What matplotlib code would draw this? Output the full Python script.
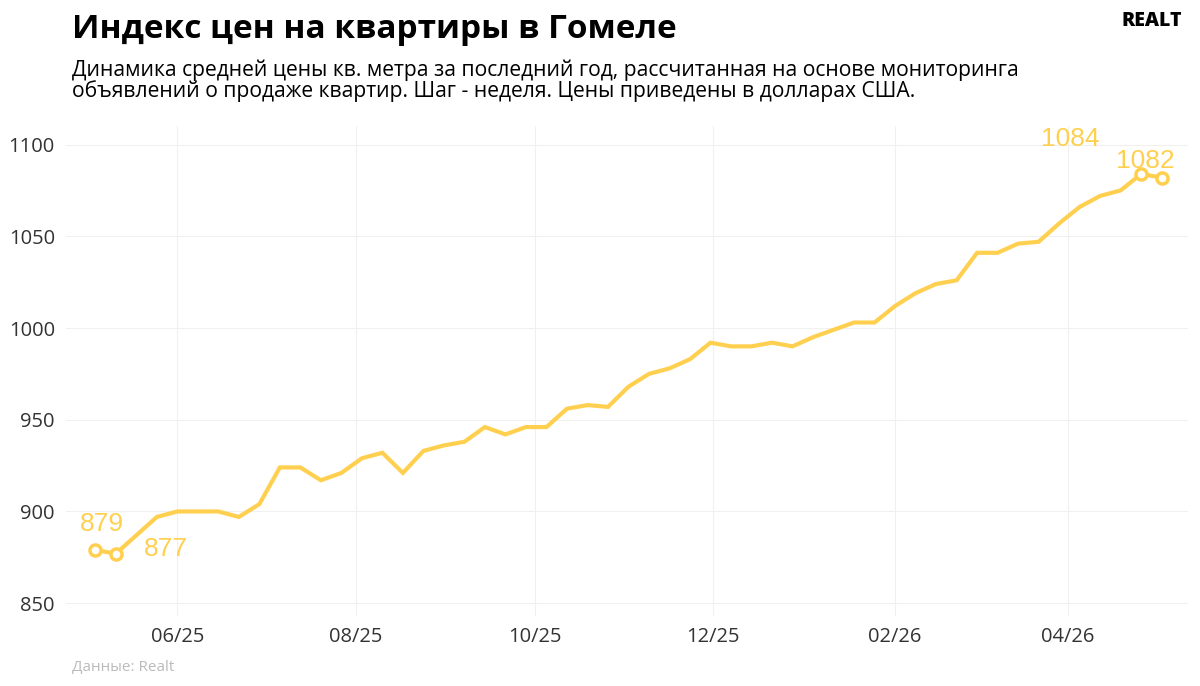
import matplotlib.pyplot as plt
import matplotlib.dates as mdates
import pandas as pd

plt.rcParams["font.family"] = ["Open Sans", "DejaVu Sans"]

start = "2025-05-04"
prices = [879, 877, 887, 897, 900, 900, 900, 897, 904, 924, 924, 917, 921, 929,
          932, 921, 933, 936, 938, 946, 942, 946, 946, 956, 958, 957, 968, 975,
          978, 983, 992, 990, 990, 992, 990, 995, 999, 1003, 1003, 1012, 1019,
          1024, 1026, 1041, 1041, 1046, 1047, 1057, 1066, 1072, 1075, 1084, 1082]
dates = pd.date_range(start, periods=len(prices), freq="7D")
yellow = "#ffd04f"

fig = plt.figure(figsize=(12, 6.86), dpi=100)
ax = fig.add_axes([0.055, 0.102, 0.935, 0.714])
ax.plot(dates, prices, color=yellow, lw=3, solid_joinstyle="miter")
for i in (0, 1, -2, -1):
    ax.plot(dates[i], prices[i], "o", ms=8, mfc="white", mec=yellow, mew=2.5)

lab = dict(color=yellow, fontsize=19, family=["Liberation Sans"])
ax.annotate(str(prices[0]), (dates[0], prices[0]), xytext=(-11, 14), textcoords="offset points", **lab)
ax.annotate(str(prices[1]), (dates[1], prices[1]), xytext=(20, -2), textcoords="offset points", **lab)
ax.annotate(str(prices[-2]), (dates[-2], prices[-2]), xytext=(-72, 20), textcoords="offset points", **lab)
ax.annotate(str(prices[-1]), (dates[-1], prices[-1]), xytext=(-33, 7), textcoords="offset points", **lab)

ax.set_ylim(843, 1110)
ax.set_yticks([850, 900, 950, 1000, 1050, 1100])
ax.set_xlim(pd.Timestamp("2025-04-24"), pd.Timestamp("2026-05-12"))
ax.xaxis.set_major_locator(mdates.MonthLocator(bymonth=[2, 4, 6, 8, 10, 12]))
ax.xaxis.set_major_formatter(mdates.DateFormatter("%m/%y"))
ax.grid(color="#f0f0f0", lw=0.8)
for s in ax.spines.values():
    s.set_visible(False)
ax.tick_params(length=0, labelsize=14.5, colors="#333333", pad=8)

fig.text(0.06, 0.945, "Индекс цен на квартиры в Гомеле", fontsize=24, fontweight="bold")
fig.text(0.06, 0.858, "Динамика средней цены кв. метра за последний год, рассчитанная на основе мониторинга\n"
         "объявлений о продаже квартир. Шаг - неделя. Цены приведены в долларах США.",
         fontsize=15.2, linespacing=1.0)
fig.text(0.985, 0.962, "REALT", fontsize=14, fontweight="black", ha="right")
fig.text(0.06, 0.022, "Данные: Realt", fontsize=11, color="#bbbbbb")
fig.savefig("out.png")
